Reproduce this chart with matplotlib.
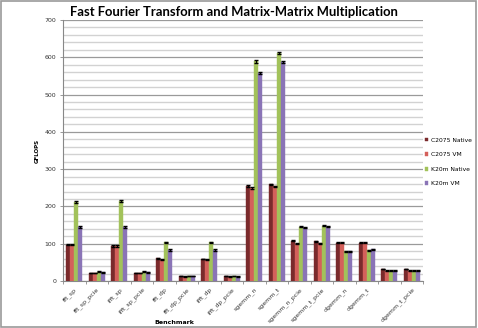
import numpy as np
import matplotlib.pyplot as plt
from matplotlib.patches import Rectangle

benchmarks = ["fft_sp", "fft_sp_pcie", "ifft_sp", "ifft_sp_pcie", "fft_dp", "fft_dp_pcie",
              "ifft_dp", "ifft_dp_pcie", "sgemm_n", "sgemm_t", "sgemm_n_pcie", "sgemm_t_pcie",
              "dgemm_n", "dgemm_t", "", "dgemm_t_pcie"]
series = ["C2075 Native", "C2075 VM", "K20m Native", "K20m VM"]

c2075_native = [97, 22, 94, 22, 61, 13, 59, 13, 255, 259, 108, 107, 103, 103, 32, 32]
c2075_vm     = [97, 22, 94, 22, 57, 12, 57, 12, 250, 254, 100, 101, 103, 103, 28, 28]
k20m_native  = [212, 25, 215, 25, 104, 14, 104, 14, 589, 611, 146, 148, 80, 82, 28, 28]
k20m_vm      = [144, 23, 144, 23, 83, 13, 83, 12, 558, 588, 143, 145, 80, 85, 28, 28]

c2075_native_err = [1.5, 0.5, 1.5, 0.5, 1, 0.5, 1, 0.5, 2, 2, 1.5, 1.5, 1, 1, 0.5, 0.5]
c2075_vm_err     = [1.5, 0.5, 1.5, 0.5, 1, 0.5, 1, 0.5, 2, 2, 1.5, 1.5, 1, 1, 0.5, 0.5]
k20m_native_err  = [3, 0.5, 3, 0.5, 1, 0.5, 1, 0.5, 3, 3, 1.5, 1.5, 1, 1, 0.5, 0.5]
k20m_vm_err      = [3, 0.5, 3, 0.5, 1.5, 0.5, 1.5, 0.5, 3, 3, 1.5, 1.5, 1, 1, 0.5, 0.5]

colors = ["#7a2a2c", "#d4605b", "#a2c25a", "#8a74b6"]

fig = plt.figure(figsize=(4.78, 3.28), dpi=100)
fig.patches.append(Rectangle((0.002, 0.004), 0.994, 0.992, transform=fig.transFigure,
                             fill=False, edgecolor="#9a9a9a", lw=1.2))
ax = fig.add_axes([0.1318, 0.1433, 0.7532, 0.7957])

x = np.arange(len(benchmarks))
w = 0.18
vals = [c2075_native, c2075_vm, k20m_native, k20m_vm]
errs = [c2075_native_err, c2075_vm_err, k20m_native_err, k20m_vm_err]
for i in range(4):
    ax.bar(x + (i - 1.5) * w, vals[i], w, color=colors[i], label=series[i],
           edgecolor=colors[i], linewidth=0.3, zorder=3,
           yerr=errs[i], error_kw=dict(ecolor="black", elinewidth=0.8, capsize=1.6, capthick=1.0))

ax.set_xlim(-0.5, len(benchmarks) - 0.5)
ax.set_ylim(0, 700)
ax.set_yticks(np.arange(0, 701, 100))
ax.set_yticks(np.arange(0, 701, 20), minor=True)
ax.grid(axis="y", which="major", color="#9a9a9a", lw=0.9, zorder=0)
ax.grid(axis="y", which="minor", color="#d2d2d2", lw=1.0, zorder=0)
ax.tick_params(axis="y", which="major", labelsize=4.5, labelcolor="#333333", length=2,
               width=0.6, color="#888888", pad=3)
ax.tick_params(axis="y", which="minor", length=0)

ax.set_xticks(x)
ax.set_xticklabels(benchmarks, rotation=45, ha="right", rotation_mode="anchor", fontsize=4.5,
                   color="#333333")
ax.set_xticks(np.arange(-0.5, len(benchmarks), 1), minor=True)
ax.tick_params(axis="x", which="major", length=0, pad=4)
ax.tick_params(axis="x", which="minor", length=2.5, width=0.6, color="#888888")

for s in ["top", "right"]:
    ax.spines[s].set_visible(False)
ax.spines["left"].set_color("#888888")
ax.spines["bottom"].set_color("#888888")
ax.spines["left"].set_linewidth(0.8)
ax.spines["bottom"].set_linewidth(0.8)

ax.set_ylabel("GFLOPS", fontsize=4, fontweight="bold")
ax.yaxis.set_label_coords(-0.065, 0.5)
ax.set_xlabel("Benchmark", fontsize=4.5, fontweight="bold")
ax.xaxis.set_label_coords(0.31, -0.15)

fig.text(0.49, 0.963, "Fast Fourier Transform and Matrix-Matrix Multiplication",
         fontsize=9.4, fontweight="bold", ha="center", va="center", family="Lato")

ax.legend(loc="center left", bbox_to_anchor=(0.99, 0.456), fontsize=4.3, frameon=False,
          handlelength=0.6, handleheight=0.6, handletextpad=0.4, labelspacing=1.6)

fig.savefig("out.png", dpi=100)
